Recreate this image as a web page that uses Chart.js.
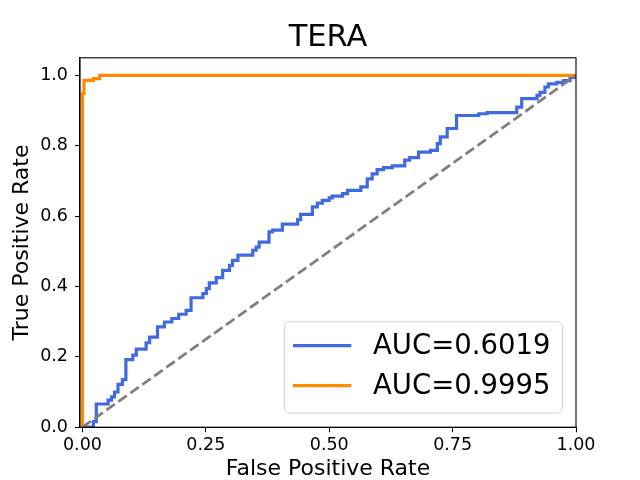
<!DOCTYPE html>
<html>
<head>
<meta charset="utf-8">
<script src="https://cdn.jsdelivr.net/npm/chart.js@4.4.0/dist/chart.umd.min.js"></script>
<style>
html,body{margin:0;padding:0;background:#fff;}
#wrap{width:640px;height:480px;}
</style>
</head>
<body>
<div id="wrap"><canvas id="c" width="640" height="480"></canvas></div>
<script>
// ---- data ----
const chartTitle = 'TERA';
const xAxisTitle = 'False Positive Rate';
const yAxisTitle = 'True Positive Rate';
const xTickValues = [0, 0.25, 0.5, 0.75, 1.0];
const xTickLabels = ['0.00', '0.25', '0.50', '0.75', '1.00'];
const yTickValues = [0, 0.2, 0.4, 0.6, 0.8, 1.0];
const yTickLabels = ['0.0', '0.2', '0.4', '0.6', '0.8', '1.0'];
const seriesLabels = ['AUC=0.6019', 'AUC=0.9995'];

const blueFpr = [0, 0.022, 0.028, 0.052, 0.059, 0.065, 0.072, 0.081, 0.088, 0.102, 0.109, 0.129, 0.136, 0.152, 0.166, 0.181, 0.195, 0.210, 0.220, 0.244, 0.251, 0.257, 0.271, 0.284, 0.298, 0.304, 0.315, 0.345, 0.352, 0.358, 0.378, 0.385, 0.405, 0.436, 0.442, 0.466, 0.476, 0.486, 0.500, 0.506, 0.527, 0.537, 0.564, 0.577, 0.587, 0.597, 0.610, 0.628, 0.653, 0.663, 0.681, 0.705, 0.719, 0.725, 0.739, 0.758, 0.803, 0.820, 0.880, 0.890, 0.921, 0.927, 0.937, 0.944, 0.961, 0.975, 0.988, 1.0];
const blueTpr = [0, 0.016, 0.066, 0.077, 0.086, 0.100, 0.122, 0.135, 0.192, 0.205, 0.222, 0.240, 0.256, 0.285, 0.299, 0.309, 0.321, 0.332, 0.368, 0.380, 0.394, 0.410, 0.425, 0.446, 0.460, 0.474, 0.489, 0.503, 0.512, 0.526, 0.555, 0.560, 0.577, 0.590, 0.605, 0.626, 0.637, 0.645, 0.652, 0.657, 0.664, 0.673, 0.683, 0.706, 0.720, 0.732, 0.738, 0.743, 0.759, 0.766, 0.782, 0.787, 0.806, 0.825, 0.849, 0.886, 0.891, 0.894, 0.910, 0.934, 0.943, 0.952, 0.967, 0.976, 0.980, 0.985, 0.994, 1.0];

const orangeFpr = [0, 0, 0.003, 0.022, 0.035, 1.0];
const orangeTpr = [0, 0.949, 0.986, 0.991, 1.0, 1.0];

const diagX = [0, 1];
const diagY = [0, 1];

// ---- build ----
const toPts = (xs, ys) => xs.map((x, i) => ({x: x, y: ys[i]}));
const FONT = 'DejaVu Sans';

const framePlugin = {
  id: 'frame',
  afterDatasetsDraw(chart) {
    const a = chart.chartArea, ctx = chart.ctx;
    ctx.save();
    ctx.strokeStyle = '#000';
    ctx.lineWidth = 1.1;
    ctx.strokeRect(a.left, a.top, a.right - a.left, a.bottom - a.top);
    ctx.restore();
  }
};

const legendPlugin = {
  id: 'boxLegend',
  afterDraw(chart) {
    const a = chart.chartArea, ctx = chart.ctx;
    const items = chart.data.datasets.filter(d => d.inLegend);
    const w = 278, h = 91.3;
    const x0 = a.right - 13.7 - w, y0 = a.bottom - 14.2 - h;
    ctx.save();
    const r = 5;
    ctx.beginPath();
    ctx.moveTo(x0 + r, y0);
    ctx.arcTo(x0 + w, y0, x0 + w, y0 + h, r);
    ctx.arcTo(x0 + w, y0 + h, x0, y0 + h, r);
    ctx.arcTo(x0, y0 + h, x0, y0, r);
    ctx.arcTo(x0, y0, x0 + w, y0, r);
    ctx.closePath();
    ctx.fillStyle = 'rgba(255,255,255,0.8)';
    ctx.fill();
    ctx.strokeStyle = '#d0d0d0';
    ctx.lineWidth = 1;
    ctx.stroke();
    ctx.font = '27.5px "' + FONT + '"';
    ctx.textBaseline = 'middle';
    ctx.textAlign = 'left';
    items.forEach((d, i) => {
      const yy = y0 + 24 + i * 40;
      ctx.strokeStyle = d.borderColor;
      ctx.lineWidth = 3.2;
      ctx.beginPath();
      ctx.moveTo(x0 + 8.7, yy);
      ctx.lineTo(x0 + 67, yy);
      ctx.stroke();
      ctx.fillStyle = '#000';
      ctx.fillText(d.label, x0 + 88.7, yy + 1);
    });
    ctx.restore();
  }
};

new Chart(document.getElementById('c'), {
  type: 'scatter',
  data: {
    datasets: [
      {label: seriesLabels[0], inLegend: true, data: toPts(blueFpr, blueTpr), showLine: true, stepped: 'before',
       borderColor: '#4169E1', backgroundColor: '#4169E1', borderWidth: 3.2, pointRadius: 0, order: 2},
      {label: seriesLabels[1], inLegend: true, data: toPts(orangeFpr, orangeTpr), showLine: true, stepped: 'before',
       borderColor: '#FF8C00', backgroundColor: '#FF8C00', borderWidth: 3.2, pointRadius: 0, order: 1},
      {label: 'chance', inLegend: false, data: toPts(diagX, diagY), showLine: true,
       borderColor: '#808080', borderWidth: 2.8, borderDash: [10.3, 4.4], pointRadius: 0, order: 0}
    ]
  },
  options: {
    responsive: false,
    animation: false,
    devicePixelRatio: 1,
    layout: {padding: {left: 16, right: 0, top: 0, bottom: 0}},
    plugins: {
      legend: {display: false},
      tooltip: {enabled: false},
      title: {display: true, text: chartTitle, color: '#000',
              font: {family: FONT, size: 30.5, weight: 'normal', lineHeight: 1.2},
              padding: {top: 20, bottom: 1.2}}
    },
    scales: {
      x: {
        type: 'linear', min: -0.005, max: 1.0,
        afterBuildTicks: s => { s.ticks = xTickValues.map(v => ({value: v})); },
        afterFit: s => { s.height = 52.8; s.paddingLeft = 0; s.paddingRight = 0; },
        ticks: {callback: (v, i) => xTickLabels[i], color: '#000', padding: 3, maxRotation: 0,
                font: {family: FONT, size: 17.5}},
        grid: {color: 'rgba(0,0,0,0)', tickColor: '#000', drawTicks: true, tickLength: 5, tickWidth: 1.1},
        border: {display: true, color: '#000', width: 1.1},
        title: {display: true, text: xAxisTitle, color: '#000', font: {family: FONT, size: 22, lineHeight: 1},
                padding: {top: 0, bottom: 0}}
      },
      y: {
        type: 'linear', min: 0, max: 1.05, position: 'left',
        afterBuildTicks: s => { s.ticks = yTickValues.map(v => ({value: v})); },
        afterFit: s => { s.width = 64; s.paddingTop = 0; s.paddingBottom = 0; },
        ticks: {callback: (v, i) => yTickLabels[i], color: '#000', padding: 7,
                font: {family: FONT, size: 17.5}},
        grid: {color: 'rgba(0,0,0,0)', tickColor: '#000', drawTicks: true, tickLength: 5, tickWidth: 1.1},
        border: {display: true, color: '#000', width: 1.1},
        title: {display: true, text: yAxisTitle, color: '#000', font: {family: FONT, size: 22, lineHeight: 0.55},
                padding: {top: 0, bottom: 0}}
      },
      yRight: {
        type: 'linear', min: 0, max: 1.05, position: 'right',
        afterFit: s => { s.width = 64; s.paddingTop = 0; s.paddingBottom = 0; },
        ticks: {display: false},
        grid: {display: false},
        border: {display: false}
      }
    }
  },
  plugins: [framePlugin, legendPlugin]
});
</script>
</body>
</html>
